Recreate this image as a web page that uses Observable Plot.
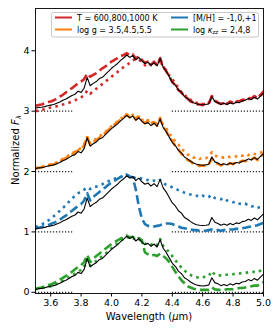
<!DOCTYPE html>
<html><head><meta charset="utf-8">
<script src="https://cdn.jsdelivr.net/npm/d3@7"></script>
<script src="https://cdn.jsdelivr.net/npm/@observablehq/plot@0.6"></script>
<style>body{margin:0;background:#fff}#chart{width:278px;height:333px}</style>
</head><body><div id="chart"></div>
<script>
const wavelength = [3.50,3.52,3.54,3.56,3.58,3.60,3.62,3.64,3.66,3.68,3.70,3.72,3.74,3.76,3.78,3.80,3.82,3.84,3.86,3.88,3.90,3.92,3.94,3.96,3.98,4.00,4.02,4.04,4.06,4.08,4.10,4.12,4.14,4.16,4.18,4.20,4.22,4.24,4.26,4.28,4.30,4.32,4.34,4.36,4.38,4.40,4.42,4.44,4.46,4.48,4.50,4.52,4.54,4.56,4.58,4.60,4.62,4.64,4.66,4.68,4.70,4.72,4.74,4.76,4.78,4.80,4.82,4.84,4.86,4.88,4.90,4.92,4.94,4.96,4.98,5.00];

const base = [0.05,0.06,0.065,0.075,0.09,0.10,0.11,0.13,0.15,0.18,
 0.20,0.23,0.26,0.28,0.33,0.31,0.38,0.56,0.42,0.46,
 0.49,0.54,0.56,0.61,0.66,0.71,0.75,0.79,0.84,0.88,
 0.93,0.89,0.92,0.85,0.89,0.83,0.79,0.81,0.76,0.80,
 0.75,0.87,0.73,0.66,0.57,0.48,0.43,0.35,0.31,0.24,
 0.21,0.17,0.14,0.12,0.11,0.105,0.11,0.12,0.24,0.16,
 0.14,0.11,0.13,0.11,0.14,0.12,0.15,0.14,0.17,0.18,
 0.21,0.19,0.23,0.20,0.25,0.30];

const tempDashed = [0.09,0.10,0.11,0.13,0.15,0.16,0.18,0.21,0.24,0.27,
 0.31,0.35,0.38,0.42,0.46,0.49,0.53,0.62,0.57,0.60,
 0.63,0.67,0.71,0.74,0.78,0.82,0.85,0.88,0.91,0.93,
 0.96,0.92,0.94,0.87,0.91,0.85,0.80,0.82,0.77,0.82,
 0.76,0.88,0.74,0.66,0.58,0.48,0.43,0.35,0.31,0.24,
 0.21,0.16,0.14,0.11,0.11,0.10,0.13,0.12,0.25,0.17,
 0.14,0.12,0.15,0.12,0.16,0.14,0.17,0.16,0.19,0.19,
 0.22,0.21,0.25,0.21,0.27,0.33];

const tempDotted = [0.00,0.01,0.02,0.03,0.05,0.06,0.07,0.08,0.09,0.11,
 0.12,0.14,0.16,0.18,0.21,0.23,0.26,0.34,0.29,0.33,
 0.37,0.41,0.45,0.49,0.53,0.57,0.61,0.65,0.69,0.73,
 0.76,0.80,0.84,0.87,0.85,0.82,0.76,0.80,0.76,0.81,
 0.76,0.85,0.72,0.68,0.59,0.54,0.44,0.40,0.31,0.28,
 0.21,0.19,0.14,0.14,0.11,0.12,0.11,0.14,0.24,0.18,
 0.14,0.13,0.13,0.14,0.14,0.15,0.15,0.18,0.17,0.20,
 0.20,0.23,0.23,0.23,0.25,0.32];

const gravDashed = [0.05,0.06,0.07,0.08,0.10,0.11,0.12,0.14,0.17,0.20,
 0.22,0.26,0.28,0.32,0.35,0.37,0.43,0.58,0.44,0.49,
 0.52,0.56,0.60,0.64,0.69,0.74,0.78,0.82,0.86,0.90,
 0.94,0.90,0.93,0.86,0.91,0.84,0.80,0.83,0.77,0.82,
 0.76,0.88,0.74,0.68,0.56,0.51,0.42,0.37,0.29,0.26,
 0.19,0.17,0.12,0.12,0.09,0.10,0.09,0.12,0.22,0.15,
 0.13,0.10,0.13,0.11,0.14,0.12,0.16,0.15,0.18,0.17,
 0.20,0.20,0.23,0.19,0.25,0.28];

const gravDotted = [0.06,0.07,0.08,0.09,0.11,0.12,0.13,0.15,0.18,0.21,
 0.24,0.27,0.30,0.33,0.36,0.39,0.45,0.57,0.47,0.51,
 0.54,0.58,0.62,0.66,0.70,0.75,0.79,0.83,0.87,0.91,
 0.95,0.91,0.94,0.88,0.92,0.86,0.82,0.85,0.79,0.84,
 0.79,0.89,0.77,0.72,0.62,0.58,0.49,0.45,0.37,0.34,
 0.28,0.27,0.23,0.24,0.21,0.23,0.22,0.25,0.32,0.27,
 0.24,0.24,0.23,0.25,0.24,0.25,0.25,0.27,0.26,0.29,
 0.27,0.30,0.29,0.29,0.31,0.34];

const metalDashed = [0.06,0.07,0.08,0.09,0.11,0.13,0.15,0.17,0.20,0.24,
 0.27,0.32,0.35,0.39,0.43,0.46,0.52,0.64,0.52,0.58,
 0.62,0.66,0.70,0.74,0.78,0.82,0.85,0.88,0.91,0.93,
 0.95,0.92,0.90,0.70,0.42,0.22,0.13,0.10,0.09,0.09,
 0.10,0.11,0.13,0.14,0.14,0.13,0.11,0.09,0.07,0.06,
 0.05,0.04,0.03,0.03,0.02,0.02,0.02,0.03,0.04,0.03,
 0.03,0.02,0.03,0.03,0.04,0.04,0.05,0.05,0.06,0.07,
 0.08,0.09,0.10,0.11,0.13,0.15];

const metalDotted = [0.08,0.10,0.12,0.15,0.18,0.22,0.26,0.30,0.35,0.40,
 0.44,0.50,0.55,0.60,0.64,0.67,0.70,0.74,0.71,0.74,
 0.75,0.77,0.79,0.82,0.84,0.86,0.88,0.90,0.91,0.93,
 0.94,0.92,0.91,0.89,0.90,0.88,0.86,0.86,0.84,0.85,
 0.83,0.86,0.81,0.78,0.76,0.74,0.72,0.69,0.67,0.65,
 0.63,0.62,0.60,0.60,0.58,0.60,0.57,0.58,0.61,0.56,
 0.55,0.54,0.56,0.52,0.51,0.49,0.50,0.47,0.46,0.47,
 0.44,0.42,0.43,0.40,0.41,0.44];

const mixDashed = [0.06,0.07,0.08,0.10,0.12,0.13,0.15,0.18,0.21,0.24,
 0.27,0.31,0.34,0.38,0.42,0.45,0.50,0.62,0.50,0.56,
 0.60,0.64,0.68,0.72,0.76,0.80,0.83,0.86,0.89,0.91,
 0.94,0.91,0.92,0.88,0.90,0.86,0.66,0.63,0.60,0.62,
 0.60,0.64,0.60,0.56,0.50,0.42,0.34,0.27,0.20,0.15,
 0.10,0.08,0.06,0.05,0.04,0.04,0.04,0.04,0.08,0.05,
 0.04,0.04,0.04,0.05,0.05,0.05,0.06,0.07,0.07,0.08,
 0.09,0.10,0.11,0.11,0.13,0.17];

const mixDotted = [0.05,0.06,0.07,0.08,0.09,0.10,0.12,0.14,0.16,0.19,
 0.22,0.25,0.28,0.31,0.34,0.37,0.42,0.54,0.44,0.48,
 0.52,0.56,0.60,0.64,0.68,0.73,0.77,0.81,0.85,0.89,
 0.92,0.90,0.90,0.86,0.88,0.84,0.80,0.82,0.79,0.81,
 0.78,0.88,0.77,0.72,0.66,0.60,0.53,0.47,0.41,0.36,
 0.32,0.29,0.26,0.25,0.24,0.25,0.26,0.27,0.35,0.29,
 0.28,0.28,0.29,0.29,0.30,0.30,0.31,0.31,0.32,0.32,
 0.33,0.33,0.34,0.33,0.36,0.40];

const groupOffsets = [3, 2, 1, 0];
const groupColors = ["#d62728", "#ff7f0e", "#1f77b4", "#2ca02c"];
const dashedSeries = [tempDashed, gravDashed, metalDashed, mixDashed];
const dottedSeries = [tempDotted, gravDotted, metalDotted, mixDotted];
const legendLabels = [
  [["T = 600,800,1000 K", ""]],
  [["log g = 3.5,4.5,5.5", ""]],
  [["[M/H] = -1,0,+1", ""]],
  [["log ", ""], ["κ", "it"], ["zz", "sub"], [" = 2,4,8", "back"]]
];
const xTicks = [3.6, 3.8, 4.0, 4.2, 4.4, 4.6, 4.8, 5.0];
const yTicks = [0, 1, 2, 3, 4];
const refSegments = [[3.5, 3.75], [4.4, 5.0]];

const toRows = (vals, off, g) => vals.map((v, i) => ({x: wavelength[i], y: v + off, g}));

const marks = [];
const refRows = [];
groupOffsets.forEach(o => refSegments.forEach(s => refRows.push({y: o, x1: s[0], x2: s[1]})));
marks.push(Plot.ruleY(refRows, {y: "y", x1: "x1", x2: "x2", stroke: "#222", strokeWidth: 1.2, strokeDasharray: "1.2,1.8"}));

groupOffsets.forEach((o, k) => {
  marks.push(Plot.line(toRows(dottedSeries[k], o, k), {x: "x", y: "y", stroke: groupColors[k], strokeWidth: 2.6, strokeDasharray: "2.6,4.2", strokeLinecap: "butt", strokeLinejoin: "round"}));
  marks.push(Plot.line(toRows(dashedSeries[k], o, k), {x: "x", y: "y", stroke: groupColors[k], strokeWidth: 2.6, strokeDasharray: "9,4", strokeLinecap: "butt", strokeLinejoin: "round"}));
});
const baseRows = [];
groupOffsets.forEach((o, k) => baseRows.push(...toRows(base, o, k)));
marks.push(Plot.line(baseRows, {x: "x", y: "y", z: "g", stroke: "black", strokeWidth: 1.1}));
marks.push(Plot.frame({stroke: "black", strokeWidth: 0.9}));
marks.push(Plot.axisX({ticks: xTicks, tickSize: 3.5, tickPadding: 2, tickFormat: d => d.toFixed(1), label: null}));
marks.push(Plot.axisY({ticks: yTicks, tickSize: 3.5, tickPadding: 2.5, tickFormat: d => String(d), label: null}));

const svg = Plot.plot({
  width: 278, height: 333,
  marginLeft: 35, marginRight: 15, marginTop: 8, marginBottom: 40,
  style: {fontFamily: "DejaVu Sans", fontSize: "9.5px", background: "white", color: "black"},
  x: {domain: [3.5, 5.0]},
  y: {domain: [-0.02, 4.7]},
  marks
});
document.getElementById("chart").appendChild(svg);

const s = d3.select(svg);
const yl = s.append("text").attr("transform", "translate(18.5,150) rotate(-90)")
  .attr("text-anchor", "middle").attr("font-size", 10).attr("fill", "black");
yl.append("tspan").text("Normalized ");
yl.append("tspan").attr("font-style", "italic").text("F");
yl.append("tspan").attr("font-style", "italic").attr("font-size", 7).attr("dy", 2).text("λ");
const xl = s.append("text").attr("x", 149).attr("y", 320).attr("text-anchor", "middle")
  .attr("font-size", 10).attr("fill", "black");
xl.append("tspan").text("Wavelength (");
xl.append("tspan").attr("font-style", "italic").text("μ");
xl.append("tspan").text("m)");

const lg = s.append("g").attr("text-anchor", "start");
lg.append("rect").attr("x", 51.5).attr("y", 12.5).attr("width", 207).attr("height", 24.5)
  .attr("rx", 2).attr("fill", "white").attr("fill-opacity", 0.85).attr("stroke", "#c8c8c8").attr("stroke-width", 1);
const pos = [[55, 17.5], [55, 29.5], [171, 17.5], [171, 29.5]];
legendLabels.forEach((parts, k) => {
  const [px, py] = pos[k];
  lg.append("line").attr("x1", px).attr("x2", px + 17).attr("y1", py).attr("y2", py)
    .attr("stroke", groupColors[k]).attr("stroke-width", 2);
  const t = lg.append("text").attr("x", px + 22).attr("y", py + 3).attr("font-size", 8)
    .attr("fill", "black").attr("text-anchor", "start");
  parts.forEach(([txt, kind]) => {
    const sp = t.append("tspan").text(txt);
    if (kind === "it") sp.attr("font-style", "italic");
    if (kind === "sub") sp.attr("font-style", "italic").attr("font-size", 5.5).attr("dy", 1.8);
    if (kind === "back") sp.attr("dy", -1.8);
  });
});
</script></body></html>
